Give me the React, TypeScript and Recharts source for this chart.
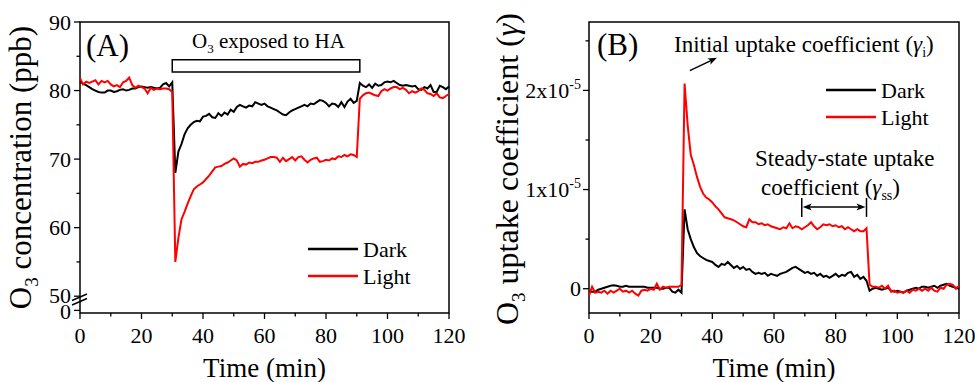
import { LineChart, Line, XAxis, YAxis, ReferenceArea, ReferenceLine, Legend } from 'recharts'

const serif = "'Liberation Serif', 'Times New Roman', serif"

// time grid, one reading per minute
const times = Array.from({ length: 121 }, (_, i) => i)

// panel A: O3 concentration (ppb)
const darkConc = [
  81.3, 81.0, 80.8, 80.5, 80.2, 80.0, 79.8, 79.7, 79.7, 80.0,
  80.0, 79.8, 79.9, 80.1, 80.2, 80.0, 80.1, 80.3, 80.3, 80.5,
  80.6, 80.5, 80.4, 80.5, 80.4, 80.3, 80.4, 80.9, 81.1, 80.6,
  81.2, 68.0, 71.1, 72.2, 73.6, 74.5, 75.0, 75.4, 75.6, 75.5,
  76.2, 76.3, 76.6, 76.1, 76.0, 76.7, 76.3, 76.8, 76.5, 77.2,
  76.9, 77.6, 77.9, 77.7, 77.5, 77.8, 77.7, 78.3, 78.1, 77.9,
  78.1, 77.7, 77.5, 77.3, 77.1, 76.8, 76.5, 76.4, 76.8, 77.1,
  77.3, 77.5, 77.7, 77.9, 77.7, 78.1, 78.0, 78.3, 78.6, 78.5,
  78.2, 77.7, 78.1, 78.0, 77.6, 78.3, 77.6, 78.4, 78.8, 78.2,
  78.5, 81.1, 80.7, 80.5, 80.9, 80.4, 81.0, 80.7, 80.8, 81.2,
  81.3, 81.2, 81.4, 81.1, 80.8, 80.7, 80.8, 80.7, 80.6, 80.7,
  80.2, 80.1, 80.5, 80.3, 80.8, 79.8, 79.8, 80.7, 80.5, 80.2,
  80.6,
]
const lightConc = [
  81.8, 80.9, 81.3, 81.1, 81.3, 81.5, 80.9, 81.4, 81.2, 81.4,
  80.9, 80.6, 80.8, 80.5, 81.2, 81.4, 81.9, 80.8, 80.4, 80.7,
  80.5, 80.3, 79.6, 80.4, 80.1, 80.3, 80.2, 80.3, 80.3, 80.2,
  79.8, 55.0, 58.5, 61.2, 62.3, 63.5, 64.6, 65.6, 66.0, 66.3,
  66.6, 67.1, 67.6, 68.2, 68.8, 68.9, 69.0, 69.3, 69.5, 69.8,
  70.1, 69.8, 68.9, 69.3, 69.2, 69.5, 69.4, 69.6, 69.6, 69.8,
  69.9, 70.1, 70.3, 70.3, 70.2, 69.6, 70.2, 69.7, 70.0, 70.3,
  69.8, 70.3, 70.4, 69.9, 69.5, 69.9, 70.1, 70.2, 69.6, 69.7,
  69.9, 69.8, 70.1, 70.0, 70.4, 70.3, 70.6, 70.4, 70.7, 70.6,
  70.3, 78.8, 79.3, 79.6, 79.7, 79.5, 79.3, 79.2, 79.9, 80.2,
  80.0, 80.3, 80.5, 80.5, 80.2, 80.4, 80.1, 79.6, 79.9, 79.7,
  79.9, 80.3, 80.1, 79.6, 79.5, 79.2, 79.6, 79.0, 78.9, 79.2,
  79.5,
]

// panel B: uptake coefficient, in units of 1e-5
const darkGamma = [
  -0.03, -0.03, -0.03, -0.01, 0.0, 0.01, 0.02, 0.03, 0.035, 0.03,
  0.02, 0.02, 0.03, 0.02, 0.02, 0.02, 0.02, 0.02, 0.02, 0.01,
  0.01, 0.01, 0.01, 0.0, 0.0, 0.01, 0.01, -0.03, -0.04, -0.01,
  -0.04, 0.8, 0.6, 0.5, 0.42, 0.36, 0.33, 0.31, 0.29, 0.28,
  0.27, 0.24, 0.22, 0.25, 0.24, 0.27, 0.24, 0.21, 0.23, 0.2,
  0.22, 0.19, 0.2, 0.17, 0.15, 0.16, 0.15, 0.16, 0.13, 0.15,
  0.14, 0.13, 0.15, 0.16, 0.17, 0.19, 0.21, 0.22, 0.2, 0.18,
  0.16, 0.17, 0.15, 0.16, 0.13, 0.15, 0.12, 0.13, 0.11, 0.13,
  0.15, 0.12, 0.14, 0.13, 0.16, 0.17, 0.12, 0.14, 0.1, 0.12,
  0.08, -0.02, 0.0, 0.01, 0.0, -0.01, 0.0, 0.01, -0.02, -0.03,
  -0.02, -0.03, -0.04, -0.02, -0.01, 0.0, 0.01, 0.0, 0.02, 0.02,
  0.01, 0.02, 0.03, 0.01, 0.03, 0.04, 0.05, 0.03, 0.02, 0.01,
  0.0,
]
const lightGamma = [
  -0.07, 0.02, -0.04, -0.03, -0.04, -0.02, -0.05, -0.02, -0.04, -0.02,
  0.0, -0.03, -0.02, -0.04, -0.02, -0.05, -0.07, -0.02, -0.01, -0.02,
  0.0, -0.01, 0.05, -0.01, 0.02, 0.01, 0.02, 0.02, 0.02, 0.02,
  0.04, 2.07, 1.65, 1.35, 1.25, 1.13, 1.03, 0.96, 0.92, 0.9,
  0.87, 0.83, 0.8, 0.76, 0.72, 0.71, 0.7, 0.69, 0.67, 0.65,
  0.63, 0.62, 0.7, 0.67, 0.67, 0.65, 0.66, 0.64, 0.65, 0.63,
  0.62, 0.61, 0.6, 0.62, 0.61, 0.66, 0.61, 0.63, 0.62, 0.6,
  0.62, 0.64, 0.67, 0.63, 0.6, 0.62, 0.65, 0.64, 0.65, 0.63,
  0.64, 0.62, 0.63, 0.6, 0.62, 0.6, 0.58, 0.6, 0.58, 0.58,
  0.61, 0.04, 0.02, 0.02, 0.01, 0.03, 0.0, 0.03, -0.03, -0.02,
  -0.04, -0.03, -0.04, -0.02, -0.04, -0.01, -0.02, 0.0, -0.02, 0.0,
  -0.02, 0.01, -0.02, -0.03, 0.01, 0.0, 0.04, 0.05, 0.04, 0.0,
  0.03,
]

const xTicks = [0, 10, 20, 30, 40, 50, 60, 70, 80, 90, 100, 110, 120]
const concTicks = [47.93, 50, 55, 60, 65, 70, 75, 80, 85, 90]
const concLabels: Record<number, string> = { 47.93: '0', 50: '50', 60: '60', 70: '70', 80: '80', 90: '90' }
const gammaTicks = [0, 0.5, 1, 1.5, 2, 2.5]

const dataA = times.map((t, i) => ({ t, dark: darkConc[i], light: lightConc[i] }))
const dataB = times.map((t, i) => ({ t, dark: darkGamma[i], light: lightGamma[i] }))

const XTick = ({ x, y, payload }: any) => {
  const v = payload.value
  const major = v % 20 === 0
  return (
    <g>
      <line x1={x} x2={x} y1={y} y2={y + (major ? 6 : 3.5)} stroke="#000" strokeWidth={1.3} />
      {major && (
        <text x={x} y={y + 30} textAnchor="middle" fontSize={22} fontFamily={serif} fill="#000">{v}</text>
      )}
    </g>
  )
}

const YTickA = ({ x, y, payload }: any) => {
  const label = concLabels[payload.value]
  // the broken-axis pair (50 / 0) sits tight, so nudge them apart a little
  const shift = payload.value === 50 ? -1 : payload.value === 47.93 ? 1 : 0
  return (
    <g>
      <line x1={x - (label ? 6 : 3.5)} x2={x} y1={y} y2={y} stroke="#000" strokeWidth={1.3} />
      {label && (
        <text x={x - 9} y={y + 7.5 + shift} textAnchor="end" fontSize={22} fontFamily={serif} fill="#000">{label}</text>
      )}
    </g>
  )
}

const YTickB = ({ x, y, payload }: any) => {
  const v = payload.value
  const major = Number.isInteger(v)
  return (
    <g>
      <line x1={x - (major ? 6 : 3.5)} x2={x} y1={y} y2={y} stroke="#000" strokeWidth={1.3} />
      {major && (
        <text x={x - 8} y={y + 7.5} textAnchor="end" fontSize={22} fontFamily={serif} fill="#000">
          {v === 0 ? '0' : `${v}x10`}
          {v !== 0 && <tspan dy={-9} fontSize={14}>-5</tspan>}
        </text>
      )}
    </g>
  )
}

function head(tx: number, ty: number, ux: number, uy: number) {
  const L = 9, w = 3.5
  const bx = tx - ux * L, by = ty - uy * L
  return `${tx},${ty} ${bx - uy * w},${by + ux * w} ${tx - ux * L * 0.75},${ty - uy * L * 0.75} ${bx + uy * w},${by - ux * w}`
}

const SingleArrow = ({ x1, y1, x2, y2 }: any) => {
  const d = Math.hypot(x2 - x1, y2 - y1)
  const ux = (x2 - x1) / d, uy = (y2 - y1) / d
  return (
    <g>
      <line x1={x1} y1={y1} x2={x2 - ux * 5} y2={y2 - uy * 5} stroke="#000" strokeWidth={1.5} />
      <polygon points={head(x2, y2, ux, uy)} fill="#000" />
    </g>
  )
}

const DoubleArrow = ({ x1, y1, x2, y2 }: any) => (
  <g>
    <line x1={x1 + 4} y1={y1} x2={x2 - 4} y2={y2} stroke="#000" strokeWidth={1.5} />
    <polygon points={head(x2 - 1, y2, 1, 0)} fill="#000" />
    <polygon points={head(x1 + 1, y1, -1, 0)} fill="#000" />
    <line x1={x1} x2={x1} y1={y1 - 9} y2={y1 + 10} stroke="#000" strokeWidth={1.5} />
    <line x1={x2} x2={x2} y1={y2 - 9} y2={y2 + 10} stroke="#000" strokeWidth={1.5} />
  </g>
)

const makeLegend = (dx: number) => ({ payload }: any) => (
  <svg width={130} height={62} style={{ display: 'block' }}>
    {(payload || []).map((p: any, i: number) => (
      <g key={p.value}>
        <line x1={dx} x2={dx + 50} y1={19 + i * 27} y2={19 + i * 27} stroke={p.color} strokeWidth={2.5} />
        <text x={dx + 55} y={26.5 + i * 27} fontSize={22} fontFamily={serif} fill="#000">{p.value}</text>
      </g>
    ))}
  </svg>
)

const xTitle = { fontSize: 27, fontFamily: serif, fill: '#000' }

export default function App() {
  return (
    <div style={{ position: 'absolute', left: 0, top: 0, width: 975, height: 382, background: '#fff' }}>
      <div style={{ position: 'absolute', left: 0, top: 0 }}>
        <LineChart width={490} height={382} data={dataA} margin={{ top: 22, right: 41, bottom: 29, left: 0 }}>
          <XAxis type="number" dataKey="t" domain={[0, 120]} ticks={xTicks} interval={0} tick={XTick}
            tickLine={false} axisLine={false} tickSize={0} tickMargin={0} height={40} />
          <YAxis type="number" domain={[47.55, 90]} ticks={concTicks} interval={0} tick={YTickA}
            tickLine={false} axisLine={false} tickSize={0} tickMargin={0} width={80} />
          <ReferenceArea x1={0} x2={120} y1={47.55} y2={90} fill="none" stroke="#000" strokeWidth={1.5} ifOverflow="visible" />
          <ReferenceArea x1={30} x2={91} y1={82.7} y2={84.5} fill="#fff" fillOpacity={1} stroke="#000" strokeWidth={1.5} />
          <Line dataKey="dark" name="Dark" stroke="#000" strokeWidth={2} dot={false} isAnimationActive={false} />
          <Line dataKey="light" name="Light" stroke="#ff0000" strokeWidth={2} dot={false} isAnimationActive={false} />
          <Legend layout="vertical" align="center" verticalAlign="middle" content={makeLegend(8)}
            wrapperStyle={{ position: 'absolute', left: 300, top: 230, width: 130, height: 62 }} />
          <g>
            <polygon points="76,298 84,294.5 84,300.5 76,304" fill="#fff" />
            <line x1={72} y1={300.5} x2={87} y2={294} stroke="#000" strokeWidth={1.4} />
            <line x1={72} y1={305} x2={87} y2={298.5} stroke="#000" strokeWidth={1.4} />
          </g>
          <text x={86} y={56} fontSize={31} fontFamily={serif} fill="#000">(A)</text>
          <text x={192} y={48} fontSize={21} fontFamily={serif} fill="#000">
            O<tspan fontSize={13} dy={5}>3</tspan><tspan dy={-5}> exposed to HA</tspan>
          </text>
          <text x={264.5} y={377} textAnchor="middle" {...xTitle}>Time (min)</text>
          <text x={31} y={167.5} textAnchor="middle" transform="rotate(-90, 31, 167.5)" fontSize={31} fontFamily={serif} fill="#000">
            O<tspan fontSize={19} dy={7}>3</tspan><tspan dy={-7}> concentration (ppb)</tspan>
          </text>
        </LineChart>
      </div>
      <div style={{ position: 'absolute', left: 490, top: 0 }}>
        <LineChart width={485} height={382} data={dataB} margin={{ top: 22, right: 16, bottom: 29, left: 0 }}>
          <XAxis type="number" dataKey="t" domain={[0, 120]} ticks={xTicks} interval={0} tick={XTick}
            tickLine={false} axisLine={false} tickSize={0} tickMargin={0} height={40} />
          <YAxis type="number" domain={[-0.245, 2.69]} ticks={gammaTicks} interval={0} tick={YTickB}
            tickLine={false} axisLine={false} tickSize={0} tickMargin={0} width={99} />
          <ReferenceArea x1={0} x2={120} y1={-0.245} y2={2.69} fill="none" stroke="#000" strokeWidth={1.5} ifOverflow="visible" />
          <Line dataKey="dark" name="Dark" stroke="#000" strokeWidth={2} dot={false} isAnimationActive={false} />
          <Line dataKey="light" name="Light" stroke="#ff0000" strokeWidth={2} dot={false} isAnimationActive={false} />
          <ReferenceLine segment={[{ x: 32.7, y: 2.2 }, { x: 41.5, y: 2.33 }]} shape={SingleArrow} ifOverflow="visible" />
          <ReferenceLine segment={[{ x: 69, y: 0.825 }, { x: 90, y: 0.825 }]} shape={DoubleArrow} ifOverflow="visible" />
          <Legend layout="vertical" align="center" verticalAlign="middle" content={makeLegend(6)}
            wrapperStyle={{ position: 'absolute', left: 330, top: 71, width: 130, height: 62 }} />
          <text x={107} y={55} fontSize={31} fontFamily={serif} fill="#000">(B)</text>
          <text x={184} y={52} fontSize={23} fontFamily={serif} fill="#000">
            Initial uptake coefficient (<tspan fontStyle="italic">γ</tspan><tspan fontSize={14} dy={5}>i</tspan><tspan dy={-5}>)</tspan>
          </text>
          <text x={265} y={166} fontSize={23} fontFamily={serif} fill="#000">Steady-state uptake</text>
          <text x={271} y={195} fontSize={23} fontFamily={serif} fill="#000">
            coefficient (<tspan fontStyle="italic">γ</tspan><tspan fontSize={14} dy={5}>ss</tspan><tspan dy={-5}>)</tspan>
          </text>
          <text x={284} y={377} textAnchor="middle" {...xTitle}>Time (min)</text>
          <text x={28} y={169} textAnchor="middle" transform="rotate(-90, 28, 169)" fontSize={32} fontFamily={serif} fill="#000">
            O<tspan fontSize={19} dy={7}>3</tspan><tspan dy={-7}> uptake coefficient (</tspan><tspan fontStyle="italic">γ</tspan>)
          </text>
        </LineChart>
      </div>
    </div>
  )
}
